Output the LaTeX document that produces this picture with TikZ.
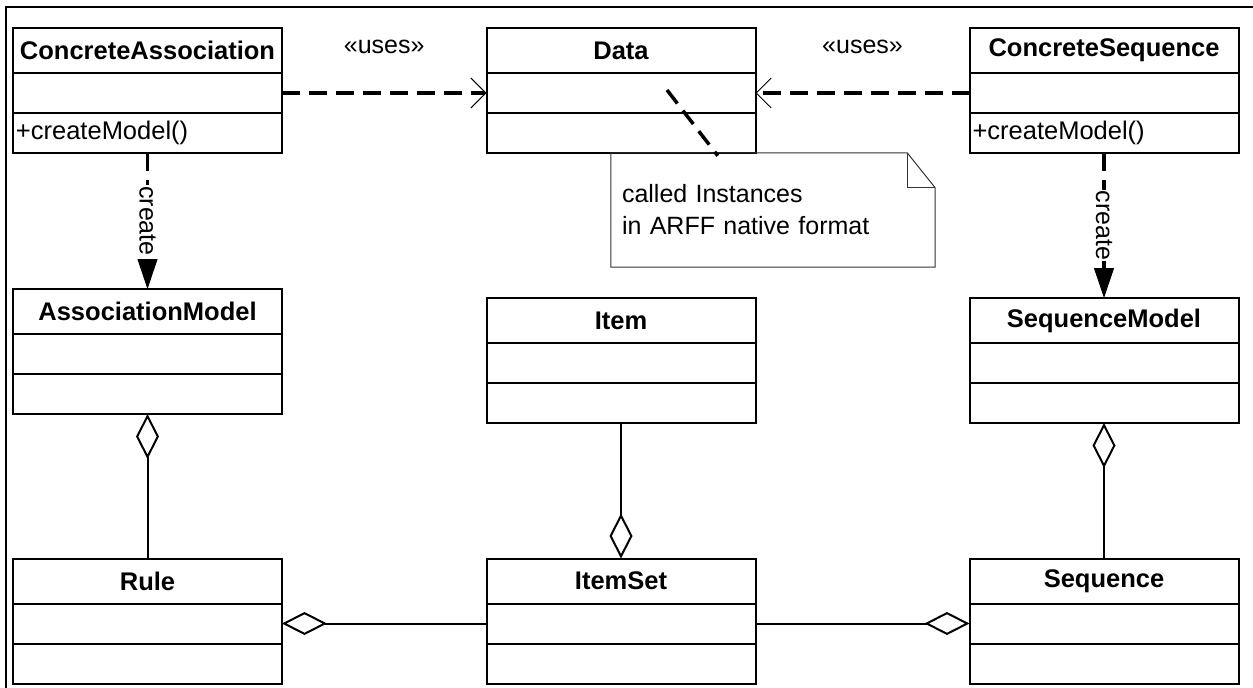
\documentclass[tikz,border=0pt]{standalone}
\usepackage{fontspec}
\setmainfont{Liberation Sans}
\usetikzlibrary{positioning,arrows.meta}

\tikzset{
  classname/.style = {draw, line width=2pt, outer sep=0pt, inner ysep=2pt,
    minimum width=269pt, minimum height=45pt,
    font=\fontsize{25.5}{31}\selectfont\bfseries},
  compart/.style = {draw, line width=2pt, outer sep=0pt, inner xsep=3pt, inner ysep=2pt,
    minimum width=269pt, text width=263pt, minimum height=40pt, align=left,
    font=\fontsize{25.5}{31}\selectfont},
  uses/.style = {line width=3.5pt, dash pattern=on 18pt off 9pt,
    -{Straight Barb[length=15pt, width=30pt, line width=1pt]}},
  create/.style = {line width=3.5pt, dash pattern=on 18pt off 9pt,
    -{Triangle[length=30pt, width=20pt, line width=1pt]}},
  agg/.style = {line width=2pt, -{Diamond[open, length=45pt, width=23pt, line width=2pt]}},
  notebox/.style = {minimum width=324pt, minimum height=114pt, inner xsep=11pt,
    text width=302pt, align=left, font=\fontsize{25}{32}\selectfont},
  lbl/.style = {font=\fontsize{25}{30}\selectfont}
}

\begin{document}
\begin{tikzpicture}[x=1pt, y=-1pt]
  \useasboundingbox (0,0) rectangle (1253,688);
  \draw[line width=2.5pt] (6,690) -- (6,7) -- (1255,7);

  % classes
  \node[classname] (ca) at (147.5,50.5) {ConcreteAssociation};
  \node[compart, below=0pt of ca] (ca-a) {};
  \node[compart, below=0pt of ca-a] (ca-o) {+createModel()};

  \node[classname] (da) at (621,50.5) {Data};
  \node[compart, below=0pt of da] (da-a) {};
  \node[compart, below=0pt of da-a] (da-o) {};

  \node[classname] (cs) at (1104,50.5) {ConcreteSequence};
  \node[compart, below=0pt of cs] (cs-a) {};
  \node[compart, below=0pt of cs-a] (cs-o) {+createModel()};

  \node[classname] (am) at (147.5,311.5) {AssociationModel};
  \node[compart, below=0pt of am] (am-a) {};
  \node[compart, below=0pt of am-a] (am-o) {};

  \node[classname] (it) at (621,320.5) {Item};
  \node[compart, below=0pt of it] (it-a) {};
  \node[compart, below=0pt of it-a] (it-o) {};

  \node[classname] (sm) at (1104,320.5) {SequenceModel};
  \node[compart, below=0pt of sm] (sm-a) {};
  \node[compart, below=0pt of sm-a] (sm-o) {};

  \node[classname] (ru) at (147.5,581) {Rule};
  \node[compart, below=0pt of ru] (ru-a) {};
  \node[compart, below=0pt of ru-a] (ru-o) {};

  \node[classname] (is) at (621,581) {ItemSet};
  \node[compart, below=0pt of is] (is-a) {};
  \node[compart, below=0pt of is-a] (is-o) {};

  \node[classname] (sq) at (1104,581) {Sequence};
  \node[compart, below=0pt of sq] (sq-a) {};
  \node[compart, below=0pt of sq-a] (sq-o) {};

  % note
  \node[notebox] (note) at (773,210) {called Instances\\in ARFF native format};
  \draw[line width=1pt, black!80] (note.north west) -- ([xshift=-28pt]note.north east)
    -- ([yshift=-35pt]note.north east) -- (note.south east) -- (note.south west) -- cycle;
  \draw[line width=1pt, black!80] ([xshift=-28pt]note.north east)
    |- ([yshift=-35pt]note.north east);
  \coordinate (pin) at (667,90);
  \draw[line width=3.5pt, dash pattern=on 17pt off 9pt] (pin) -- ([xshift=107pt,yshift=-3pt]note.north west);

  % dependencies
  \draw[uses] (ca-a) -- (da-a) node[lbl, midway, above=34pt] {«uses»};
  \draw[uses] (cs-a) -- (da-a) node[lbl, midway, above=34pt] {«uses»};
  \draw[create] (ca-o) -- (am) node[lbl, midway, rotate=-90, fill=white, inner sep=1pt] {create};
  \draw[create] (cs-o) -- (sm) node[lbl, midway, rotate=-90, fill=white, inner sep=1pt] {create};

  % aggregations
  \draw[agg] (ru) -- (am-o);
  \draw[agg] (it-o) -- (is);
  \draw[agg] (sq) -- (sm-o);
  \draw[agg] (is-a) -- (ru-a);
  \draw[agg] (is-a) -- (sq-a);
\end{tikzpicture}
\end{document}
